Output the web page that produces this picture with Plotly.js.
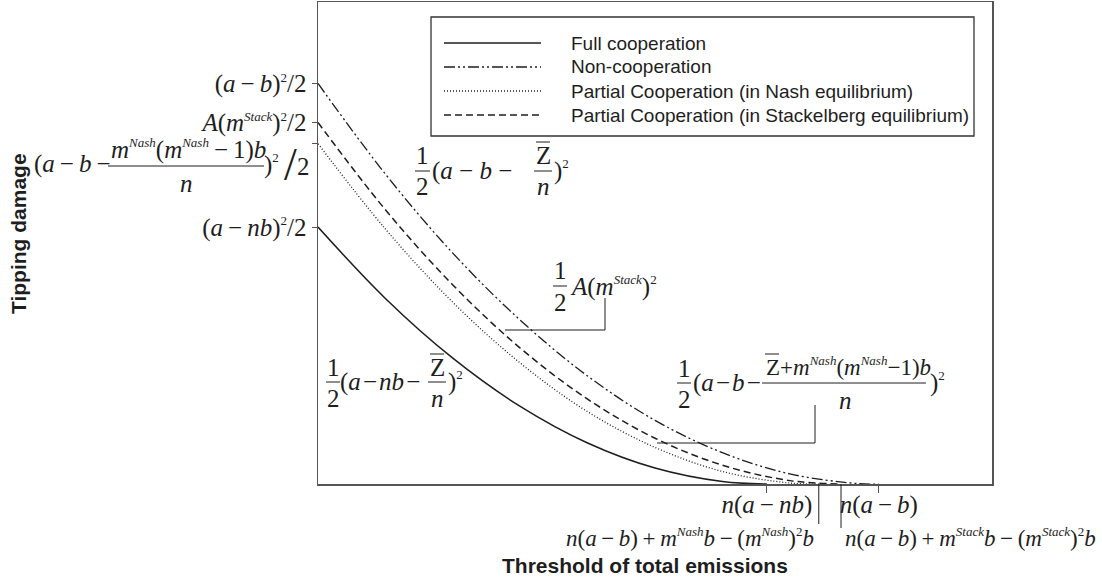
<!DOCTYPE html>
<html><head><meta charset="utf-8">
<script src="https://cdn.plot.ly/plotly-3.0.1.min.js"></script>
<style>html,body{margin:0;padding:0;background:#fff}#chart{width:1102px;height:579px}</style>
</head><body><div id="chart"></div>
<script>
// ---- data (abstract units 0..100) ----
const seriesNames = ['Full cooperation', 'Non-cooperation', 'Partial Cooperation (in Nash equilibrium)', 'Partial Cooperation (in Stackelberg equilibrium)'];
const fullX  = [0, 10, 20, 30, 40, 50, 60, 66.6];
const fullY  = [53.3, 38.5, 26.1, 16.1, 8.5, 3.3, 0.5, 0];
const nonX   = [0, 10, 20, 30, 40, 50, 60, 70, 80, 83.2];
const nonY   = [83.1, 64.3, 47.9, 34.0, 22.4, 13.2, 6.5, 2.1, 0.1, 0];
const nashX  = [0, 10, 20, 30, 40, 50, 60, 70, 74.3];
const nashY  = [70.6, 52.9, 37.7, 25.1, 15.0, 7.6, 2.6, 0.2, 0];
const stackX = [0, 10, 20, 30, 40, 50, 60, 70, 77.6];
const stackY = [75.0, 56.9, 41.3, 28.2, 17.6, 9.5, 3.9, 0.7, 0];

const mn = '\u2009\u2212\u2009', pl = '\u2009+\u2009', MN = ' \u2212 ', hm = '\u200A\u2212\u200A';
const sp = t => '<sup><span style="font-size:13px">' + t + '</span></sup>';
const yTickVals = [83.1, 75.0, 70.6, 53.3];
const yTickText = ['(<i>a</i>' + mn + '<i>b</i>)' + sp('2') + '/2',
                   '<i>A</i>(<i>m</i>' + sp('<i>Stack</i>') + ')' + sp('2') + '/2',
                   '',
                   '(<i>a</i>' + mn + '<i>nb</i>)' + sp('2') + '/2'];
const xTickVals = [66.6, 83.2];
const xTickText = ['<i>n</i>(<i>a</i>' + mn + '<i>nb</i>)', '<i>n</i>(<i>a</i>' + mn + '<i>b</i>)'];

// ---- layout helpers ----
const L = 318, R = 992, T = 2, B = 484;
const SERIF = 'Liberation Serif', SANS = 'Liberation Sans', INK = '#1e1e1e', FS = 25;
const px = p => (p - L) / (R - L), py = p => (B - p) / (B - T);
const ann = [], shp = [];
function txt(t, x, y, anchor, size, extra) {
  ann.push(Object.assign({text: t, x: px(x), y: py(y), xref: 'paper', yref: 'paper', showarrow: false,
    xanchor: anchor || 'center', yanchor: 'middle', borderpad: 0,
    font: {family: SERIF, size: size || FS, color: INK}}, extra || {}));
}
function seg(x0, y0, x1, y1, w, dash) {
  shp.push({type: 'line', xref: 'paper', yref: 'paper', x0: px(x0), y0: py(y0), x1: px(x1), y1: py(y1),
    line: {color: INK, width: w || 1, dash: dash || 'solid'}});
}

// y tick label for Nash partial cooperation (fraction)
txt('(<i>a</i>' + mn + '<i>b</i>' + mn, 33, 164, 'left');
txt('<i>m</i>' + sp('<i>Nash</i>') + '(<i>m</i>' + sp('<i>Nash</i>') + mn + '1)<i>b</i>', 188, 149);
seg(108, 166, 264, 166, 1);
txt('<i>n</i>', 186, 183);
txt(')' + sp('2'), 263, 164, 'left');
txt('/', 290, 164, 'center', 46);
txt('2', 303, 166);

// label: non-cooperation
txt('1', 422, 155); txt('2', 422, 187); seg(415, 171, 430, 171);
txt('(<i>a</i>' + MN + '<i>b</i>' + MN, 431, 171, 'left');
txt('Z', 543, 155); seg(536, 142, 550, 142); txt('<i>n</i>', 543, 187); seg(534, 171, 552, 171);
txt(')' + sp('2'), 553, 170, 'left');

// label: Stackelberg
txt('1', 560, 270); txt('2', 560, 302); seg(553, 286, 567, 286);
txt('<i>A</i>(<i>m</i>' + sp('<i>Stack</i>') + ')' + sp('2'), 569, 286, 'left');
seg(505, 330, 605, 330); seg(605, 330, 605, 298);

// label: Nash
txt('1', 684, 368); txt('2', 684, 399); seg(677, 383, 691, 383);
txt('(<i>a</i>' + hm + '<i>b</i>' + hm, 692, 383, 'left');
txt('Z+<i>m</i>' + sp('<i>Nash</i>') + '(<i>m</i>' + sp('<i>Nash</i>') + '\u2212' + '1)<i>b</i>', 765, 366, 'left', 23);
seg(765, 354, 779, 354);
seg(762, 383, 926, 383); txt('<i>n</i>', 845, 400);
txt(')' + sp('2'), 929, 382, 'left');
seg(815, 405, 815, 443); seg(657, 443, 815, 443);

// label: full cooperation
txt('1', 333, 367); txt('2', 333, 398); seg(326, 382, 340, 382);
txt('(<i>a</i>' + hm + '<i>nb</i>' + hm, 339, 382, 'left');
txt('Z', 437, 367); seg(430, 354, 444, 354); txt('<i>n</i>', 437, 398); seg(428, 382, 446, 382);
txt(')' + sp('2'), 447, 381, 'left');

// x-axis callout labels
txt('<i>n</i>(<i>a</i>' + mn + '<i>b</i>)' + pl + '<i>m</i>' + sp('<i>Nash</i>') + '<i>b</i>' + mn + '(<i>m</i>' + sp('<i>Nash</i>') + ')' + sp('2') + '<i>b</i>', 815, 537, 'right', 23);
txt('<i>n</i>(<i>a</i>' + mn + '<i>b</i>)' + pl + '<i>m</i>' + sp('<i>Stack</i>') + '<i>b</i>' + mn + '(<i>m</i>' + sp('<i>Stack</i>') + ')' + sp('2') + '<i>b</i>', 844, 537, 'left', 23);
[nashX[nashX.length - 1], stackX[stackX.length - 1]].forEach((v, i) => {
  shp.push({type: 'line', xref: 'x', yref: 'paper', x0: v, x1: v, y0: 0, y1: py(i ? 528 : 524), line: {color: INK, width: 1}});
});

// axis titles
txt('<b>Threshold of total emissions</b>', 645, 565, 'center', 21, {font: {family: SANS, size: 21, color: INK}});
txt('<b>Tipping damage</b>', 19, 234, 'center', 21, {textangle: -90, font: {family: SANS, size: 21, color: INK}});

// ---- series styles ----
const styles = [
  {dash: 'solid', width: 1.5},
  {dash: '11px,3px,2px,3px,2px,3px', width: 1.3},
  {dash: '1px,2px', width: 1.3},
  {dash: '7px,4px', width: 1.5}
];
const seriesX = [fullX, nonX, nashX, stackX], seriesY = [fullY, nonY, nashY, stackY];
const traces = seriesNames.map((n, i) => ({
  type: 'scatter', mode: 'lines', name: n, x: seriesX[i], y: seriesY[i], hoverinfo: 'skip', showlegend: false,
  line: Object.assign({color: INK, shape: 'spline', smoothing: 1}, styles[i])
}));

// ---- legend (drawn as a boxed key) ----
shp.push({type: 'rect', xref: 'paper', yref: 'paper', x0: px(431), x1: px(974), y0: py(17), y1: py(136),
  line: {color: '#333', width: 1.3}, fillcolor: '#fff', layer: 'above'});
seriesNames.forEach((n, i) => {
  const y = 43 + 24 * i;
  seg(444, y, 541, y, styles[i].width, styles[i].dash);
  ann.push({text: n, x: px(569), y: py(y), xref: 'paper', yref: 'paper', showarrow: false, xanchor: 'left', yanchor: 'middle',
    font: {family: SANS, size: 19, color: INK}});
});

const axisBase = {showgrid: false, zeroline: false, showline: true, mirror: true, linecolor: '#555', linewidth: 1.5,
  ticks: 'outside', tickcolor: '#555', tickwidth: 1, tickfont: {family: SERIF, size: FS, color: INK}, fixedrange: true};

const layout = {
  width: 1102, height: 579, margin: {l: L, r: 1102 - R, t: T, b: 579 - B, pad: 0},
  paper_bgcolor: '#fff', plot_bgcolor: '#fff', showlegend: false,
  xaxis: Object.assign({}, axisBase, {range: [0, 100], tickvals: xTickVals, ticktext: xTickText, ticklen: 7, ticklabelstandoff: -10}),
  yaxis: Object.assign({}, axisBase, {range: [0, 100], tickvals: yTickVals, ticktext: yTickText, ticklen: 5}),
  annotations: ann, shapes: shp
};
Plotly.newPlot('chart', traces, layout, {staticPlot: true, displayModeBar: false});
</script></body></html>
